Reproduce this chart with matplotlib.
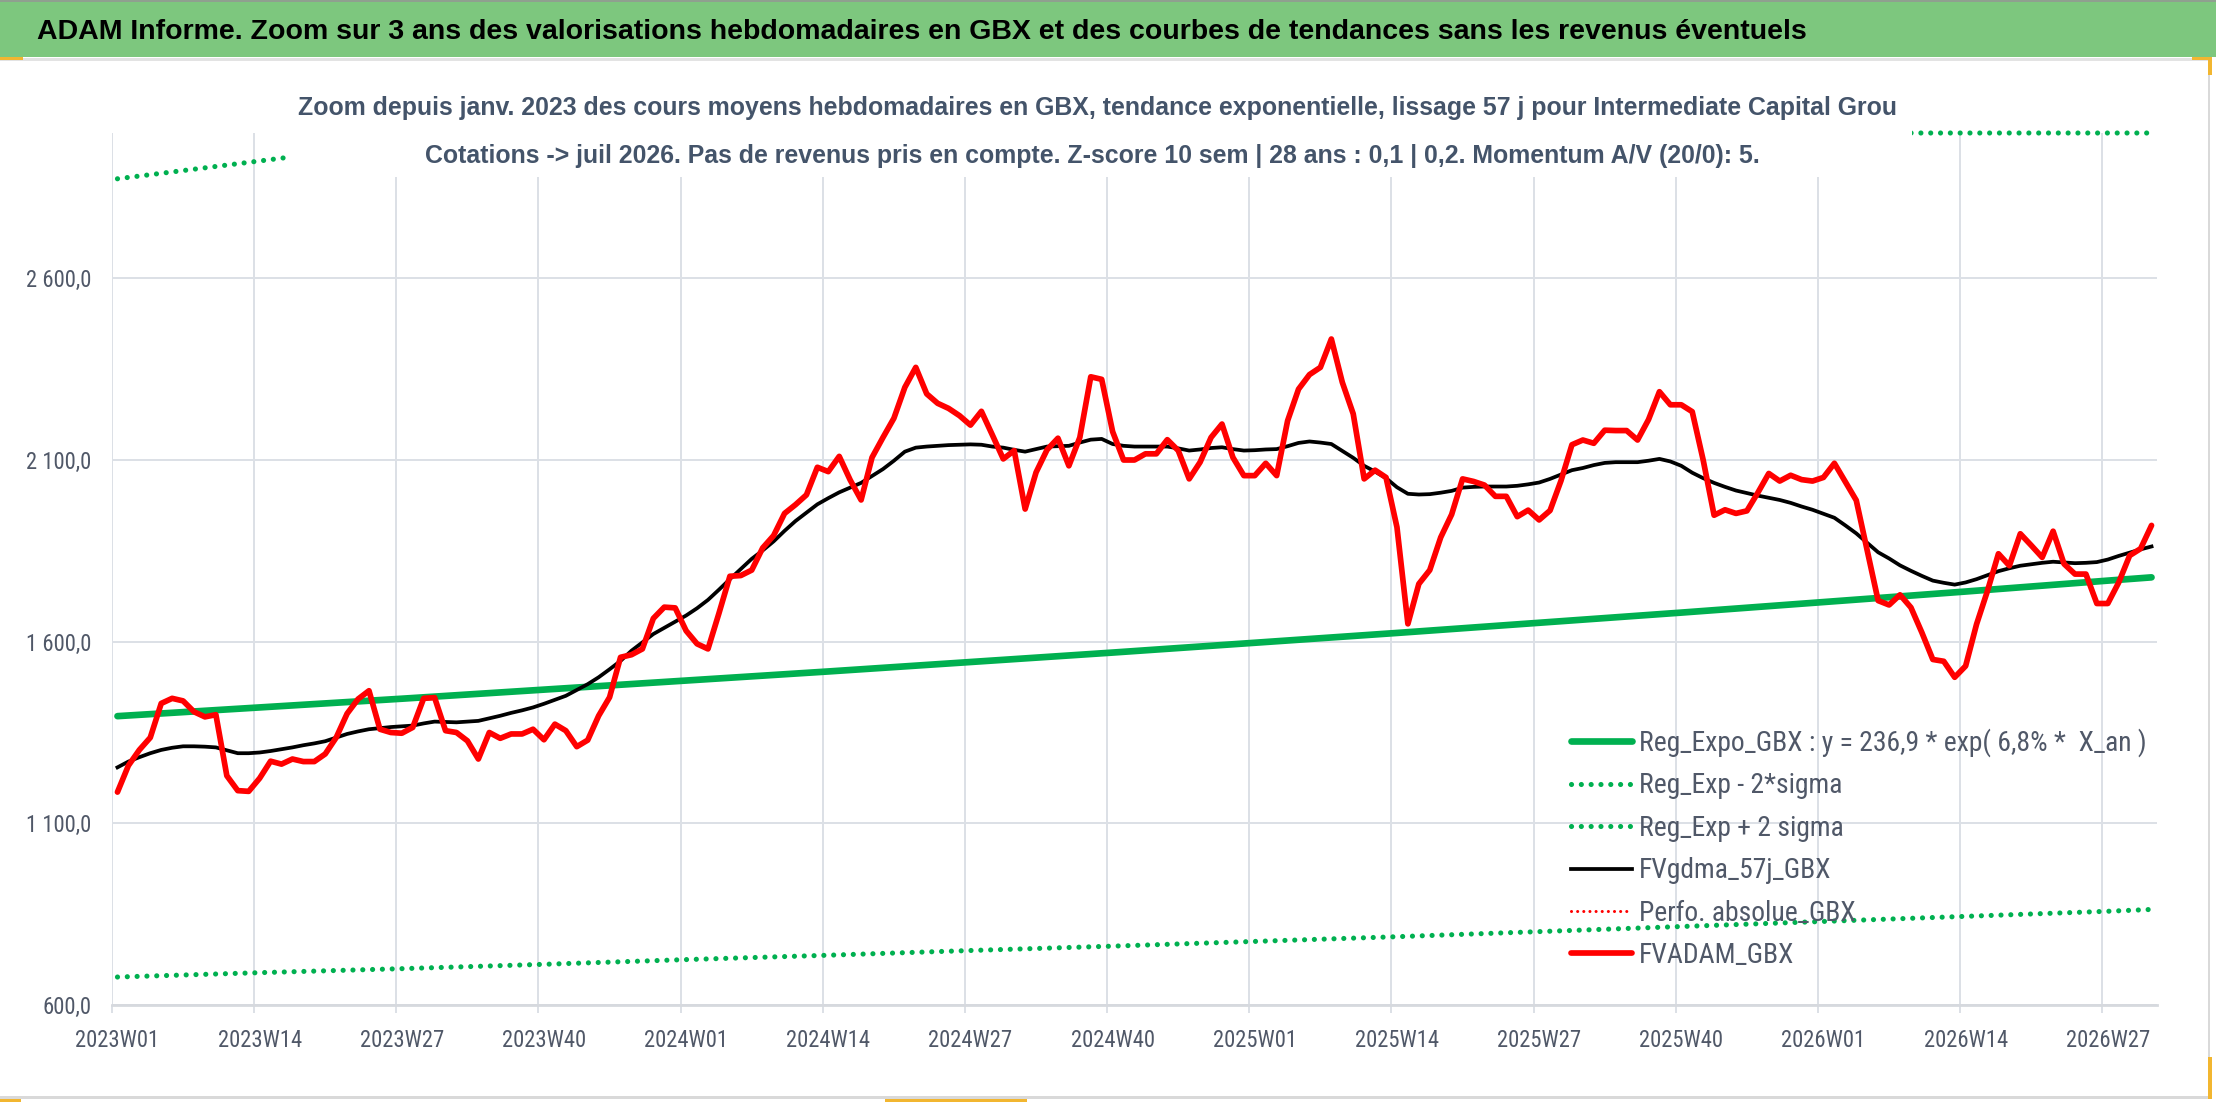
import numpy as np
import matplotlib
matplotlib.use("Agg")
import matplotlib.pyplot as plt
from matplotlib import font_manager
from matplotlib.patches import Rectangle
from matplotlib.ticker import FixedLocator, FuncFormatter

# weekly average price (GBX), 2023W01 -> 2026W31
fvadam_gbx = [
    1186, 1259, 1302, 1336, 1430, 1444, 1437, 1407, 1393, 1399,
    1231, 1190, 1188, 1224, 1271, 1263, 1277, 1270, 1270, 1291,
    1336, 1402, 1442, 1465, 1359, 1350, 1348, 1364, 1444, 1446,
    1355, 1350, 1327, 1277, 1350, 1334, 1346, 1346, 1359, 1330,
    1373, 1355, 1311, 1329, 1396, 1447, 1557, 1564, 1580, 1664,
    1695, 1693, 1630, 1594, 1580, 1678, 1780, 1782, 1797, 1858,
    1892, 1953, 1977, 2004, 2080, 2068, 2110, 2045, 1990, 2107,
    2162, 2215, 2300, 2355, 2282, 2256, 2242, 2222, 2196, 2234,
    2169, 2103, 2126, 1965, 2066, 2128, 2160, 2084, 2162, 2329,
    2322, 2178, 2100, 2100, 2117, 2117, 2156, 2126, 2048, 2094,
    2162, 2199, 2107, 2057, 2057, 2091, 2057, 2208, 2295, 2335,
    2355, 2433, 2314, 2227, 2048, 2072, 2052, 1915, 1649, 1759,
    1797, 1887, 1950, 2048, 2041, 2031, 2000, 2000, 1944, 1962,
    1935, 1961, 2043, 2142, 2155, 2146, 2182, 2181, 2181, 2155,
    2211, 2288, 2252, 2252, 2233, 2100, 1948, 1963, 1953, 1960,
    2010, 2063, 2042, 2058, 2046, 2042, 2052, 2091, 2040, 1989,
    1851, 1713, 1701, 1729, 1694, 1625, 1551, 1546, 1502, 1533,
    1648, 1740, 1842, 1809, 1897, 1865, 1832, 1904, 1814, 1786,
    1786, 1705, 1705, 1763, 1837, 1856, 1920,
]

# 57 day smoothed curve, same weeks
fvgdma_57j = [
    1254, 1270, 1282, 1293, 1302, 1308, 1312, 1312, 1311, 1309,
    1301, 1293, 1293, 1295, 1299, 1304, 1309, 1315, 1320, 1326,
    1336, 1346, 1353, 1359, 1362, 1365, 1367, 1369, 1375, 1380,
    1379, 1378, 1380, 1382, 1389, 1396, 1404, 1411, 1419, 1429,
    1440, 1451, 1467, 1483, 1502, 1524, 1547, 1575, 1598, 1621,
    1638, 1655, 1672, 1692, 1715, 1743, 1772, 1800, 1828, 1851,
    1876, 1905, 1932, 1955, 1978, 1995, 2011, 2024, 2037, 2056,
    2075, 2098, 2123, 2134, 2137, 2139, 2141, 2142, 2143, 2142,
    2137, 2134, 2128, 2123, 2130, 2137, 2138, 2139, 2148, 2156,
    2158, 2144, 2139, 2137, 2137, 2137, 2137, 2132, 2126, 2129,
    2133, 2135, 2130, 2126, 2127, 2129, 2130, 2138, 2147, 2151,
    2148, 2144, 2125, 2106, 2084, 2068, 2050, 2025, 2007, 2005,
    2006, 2010, 2015, 2024, 2026, 2027, 2027, 2027, 2029, 2033,
    2038, 2048, 2060, 2072, 2078, 2086, 2092, 2094, 2094, 2094,
    2098, 2103, 2096, 2084, 2065, 2050, 2037, 2026, 2016, 2009,
    2002, 1996, 1990, 1982, 1972, 1963, 1952, 1941, 1920, 1898,
    1872, 1846, 1829, 1810, 1795, 1781, 1768, 1762, 1757, 1763,
    1772, 1783, 1794, 1802, 1809, 1813, 1817, 1820, 1818, 1816,
    1817, 1819, 1826, 1836, 1845, 1854, 1862,
]

# exponential trend and +/- 2 sigma bands, read every 13 weeks + last week
trend_week = [0, 13, 26, 39, 52, 65, 78, 91, 104, 117, 130, 143, 156, 169, 182, 186]
reg_expo = [1395, 1419, 1443, 1468, 1493, 1518, 1544, 1570, 1597, 1624, 1652, 1680, 1709, 1738, 1768, 1777]
reg_minus_2s = [677, 689, 700, 712, 725, 737, 750, 762, 775, 788, 802, 816, 830, 844, 858, 863]
reg_plus_2s = [2874, 2923, 2973, 3023, 3075, 3127, 3181, 3234, 3290, 3345, 3403, 3461, 3521, 3581, 3642, 3661]

tick_labels = ["2023W01", "2023W14", "2023W27", "2023W40", "2024W01", "2024W14", "2024W27",
               "2024W40", "2025W01", "2025W14", "2025W27", "2025W40", "2026W01", "2026W14", "2026W27"]

title = ("ADAM Informe. Zoom sur 3 ans des valorisations hebdomadaires en GBX "
         "et des courbes de tendances sans les revenus éventuels")
sub1 = ("Zoom depuis janv. 2023 des cours moyens hebdomadaires en GBX, tendance exponentielle, "
        "lissage 57 j pour Intermediate Capital Grou")
sub2 = ("Cotations -> juil 2026. Pas de revenus pris en compte. Z-score 10 sem | 28 ans : 0,1 | 0,2. "
        "Momentum A/V (20/0): 5.")

# narrow face for axis labels and legend, whichever one is installed
avail = {f.name for f in font_manager.fontManager.ttflist}
narrow, k = "Liberation Sans", 0.82
for name, scale in [("Liberation Sans Narrow", 1.0), ("Roboto Condensed", 0.96),
                    ("Noto Sans Condensed", 0.88), ("Open Sans Condensed", 0.9)]:
    if name in avail:
        narrow, k = name, scale
        break
plt.rcParams["font.family"] = ["Liberation Sans", "DejaVu Sans"]

W, H = 2216, 1102
YMIN, YMAX = 600, 3000
grid_c = "#DCE0E6"
txt_c = "#505868"

fig = plt.figure(figsize=(W / 100, H / 100), dpi=100)
ax = fig.add_axes([112 / W, 1 - 1005 / H, (2157 - 112) / W, (1005 - 133) / H])

n = len(fvadam_gbx)
x = np.arange(n)
dots = (0, (0.01, 1.9))

ax.plot(trend_week, reg_expo, color="#00B050", lw=4.8, solid_capstyle="round",
        label="Reg_Expo_GBX : y = 236,9 * exp( 6,8% *  X_an )")
ax.plot(trend_week, reg_minus_2s, color="#00B050", lw=3.7, linestyle=dots,
        dash_capstyle="round", label="Reg_Exp - 2*sigma")
# Excel draws the part above the axis max flat along the top edge
ax.plot(trend_week, np.minimum(reg_plus_2s, YMAX), color="#00B050", lw=3.7, linestyle=dots,
        dash_capstyle="round", clip_on=False, label="Reg_Exp + 2 sigma")
ax.plot(x, fvgdma_57j, color="black", lw=2.7, solid_joinstyle="round", label="FVgdma_57j_GBX")
ax.plot([], [], color="#FF0000", lw=2.2, linestyle=(0, (0.01, 2.0)), dash_capstyle="round",
        label="Perfo. absolue_GBX")
ax.plot(x, fvadam_gbx, color="#FF0000", lw=4.1, solid_joinstyle="round", solid_capstyle="round",
        label="FVADAM_GBX")

ax.set_xlim(-0.5, n - 0.5)
ax.set_ylim(YMIN, YMAX)

major = np.arange(len(tick_labels)) * 13
ax.set_xticks(major)
ax.set_xticklabels(tick_labels)
ax.xaxis.set_minor_locator(FixedLocator(major - 0.5))
ax.set_yticks([600, 1100, 1600, 2100, 2600])
ax.yaxis.set_major_formatter(FuncFormatter(
    lambda v, _: f"{v:,.1f}".replace(",", " ").replace(".", ",")))

ax.grid(which="minor", axis="x", color=grid_c, lw=1.4)
ax.grid(which="major", axis="y", color=grid_c, lw=1.4)
ax.set_axisbelow(True)
ax.tick_params(axis="x", which="major", length=0, pad=17, labelsize=17 * k, labelcolor=txt_c)
ax.tick_params(axis="x", which="minor", length=6, width=1.4, color=grid_c)
ax.tick_params(axis="y", length=0, pad=15, labelsize=17 * k, labelcolor=txt_c)
for lab in ax.get_xticklabels() + ax.get_yticklabels():
    lab.set_family(narrow)
for s in ["top", "right", "left"]:
    ax.spines[s].set_visible(False)
ax.spines["bottom"].set_color("#D6D9DE")
ax.spines["bottom"].set_linewidth(2)

leg_fs = 20.7 * k
leg_px = leg_fs * 100 / 72
ax.legend(loc="upper left", bbox_to_anchor=(1571 / W, 1 - (742 - leg_px / 2) / H),
          bbox_transform=fig.transFigure, frameon=False,
          prop={"family": narrow, "size": leg_fs}, labelcolor=txt_c,
          handlelength=61 / leg_px, handletextpad=7 / leg_px,
          labelspacing=(43 - leg_px) / leg_px, borderpad=0, borderaxespad=0)

# title band and frame
fig.patches.append(Rectangle((0, 1 - 57 / H), 1, 55 / H, transform=fig.transFigure,
                             fc="#7DC77E", ec="none", zorder=0))
fig.patches.append(Rectangle((0, 1 - 2 / H), 1, 2 / H, transform=fig.transFigure,
                             fc="#8FA08F", ec="none", zorder=1))
fig.patches.append(Rectangle((0, 1 - 61 / H), 2210 / W, 3 / H, transform=fig.transFigure,
                             fc="#E3E3E3", ec="none", zorder=1))
fig.patches.append(Rectangle((2208 / W, 1 - 1098 / H), 2 / W, 1038 / H, transform=fig.transFigure,
                             fc="#D9D9D9", ec="none", zorder=1))
fig.patches.append(Rectangle((0, 1 - 1099 / H), 2210 / W, 3 / H, transform=fig.transFigure,
                             fc="#D9D9D9", ec="none", zorder=1))
# selection handles
for (hx, hy, hw, hh) in [(0, 57, 23, 3), (2192, 57, 20, 3), (2208, 57, 4, 18),
                         (2208, 1057, 4, 42), (0, 1099, 21, 3), (885, 1099, 142, 3)]:
    fig.patches.append(Rectangle((hx / W, 1 - (hy + hh) / H), hw / W, hh / H,
                                 transform=fig.transFigure, fc="#F2B630", ec="none", zorder=2))

# subtitle box hides what lies behind it
fig.patches.append(Rectangle((290 / W, 1 - 177 / H), (1912 - 290) / W, 100 / H,
                             transform=fig.transFigure, fc="white", ec="none", zorder=5))

fig.text(37 / W, 1 - 39 / H, title, ha="left", va="baseline", fontsize=20.5,
         fontweight="bold", color="black", zorder=6)
fig.text(1097 / W, 1 - 115 / H, sub1, ha="center", va="baseline", fontsize=17.9,
         fontweight="bold", color="#44546A", zorder=6)
fig.text(1092 / W, 1 - 163 / H, sub2, ha="center", va="baseline", fontsize=17.9,
         fontweight="bold", color="#44546A", zorder=6)

fig.savefig("out.png", dpi=100, facecolor="white")
